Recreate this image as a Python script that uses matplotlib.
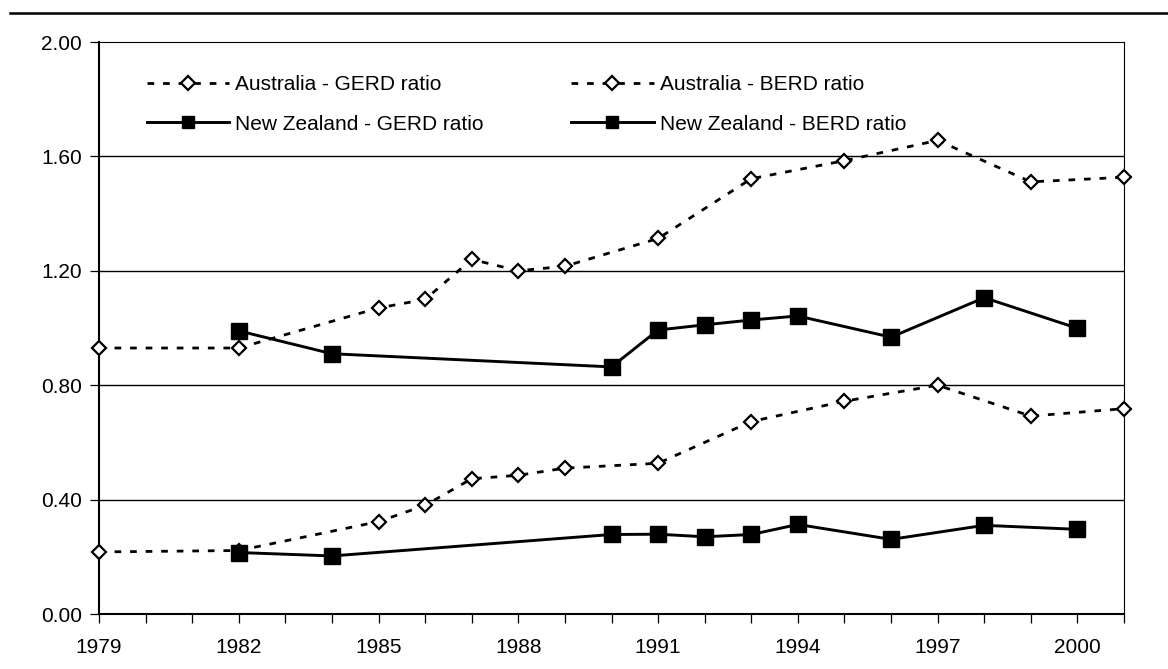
import matplotlib
matplotlib.use("Agg")
import matplotlib.pyplot as plt
from matplotlib.lines import Line2D

plt.rcParams['font.family'] = ['Liberation Sans', 'DejaVu Sans']

aus_years = [1979, 1982, 1985, 1986, 1987, 1988, 1989, 1991, 1993, 1995, 1997, 1999, 2001]
aus_gerd = [0.93, 0.93, 1.07, 1.10, 1.24, 1.20, 1.216, 1.313, 1.522, 1.585, 1.656, 1.511, 1.527]
aus_berd = [0.217, 0.222, 0.323, 0.380, 0.473, 0.485, 0.510, 0.527, 0.673, 0.744, 0.800, 0.692, 0.718]

nz_years = [1982, 1984, 1990, 1991, 1992, 1993, 1994, 1996, 1998, 2000]
nz_gerd = [0.99, 0.91, 0.864, 0.993, 1.011, 1.028, 1.042, 0.968, 1.106, 0.999]
nz_berd = [0.215, 0.203, 0.278, 0.279, 0.270, 0.278, 0.313, 0.261, 0.310, 0.296]

y_ticks = [0.0, 0.4, 0.8, 1.2, 1.6, 2.0]
x_label_years = list(range(1979, 2001, 3))
x_minor_years = list(range(1979, 2002))

FS = 15

fig = plt.figure(figsize=(11.68, 6.69), dpi=100)
ax = fig.add_axes([99/1168, 1-614/669, (1124-99)/1168, (614-42)/669])

dot = (0, (2.4, 3.2))
aus_kw = dict(color='black', lw=2.0, linestyle=dot, marker='D', markersize=7.2,
              markerfacecolor='white', markeredgecolor='black', markeredgewidth=1.6,
              clip_on=False, zorder=3)
nz_kw = dict(color='black', lw=2.1, linestyle='-', marker='s', markersize=11,
             markerfacecolor='black', markeredgecolor='black', clip_on=False, zorder=4)

l1, = ax.plot(aus_years, aus_gerd, label='Australia - GERD ratio', **aus_kw)
l2, = ax.plot(aus_years, aus_berd, label='Australia - BERD ratio', **aus_kw)
l3, = ax.plot(nz_years, nz_gerd, label='New Zealand - GERD ratio', **nz_kw)
l4, = ax.plot(nz_years, nz_berd, label='New Zealand - BERD ratio', **nz_kw)

ax.set_xlim(1979, 2001)
ax.set_ylim(0, 2.0)
ax.set_yticks(y_ticks)
ax.set_yticklabels([f"{v:.2f}" for v in y_ticks])
ax.set_xticks(x_minor_years, minor=True)
ax.set_xticks(x_label_years)
ax.set_xticklabels([str(y) for y in x_label_years])

for v in y_ticks[1:-1]:
    ax.axhline(v, color='black', lw=1.0, zorder=1)

ax.tick_params(axis='both', labelsize=FS, direction='out', length=6.5, width=0.9, color='black')
ax.tick_params(axis='x', which='minor', direction='out', length=6.5, width=0.9)
ax.tick_params(axis='x', pad=10.5)
ax.tick_params(axis='y', pad=6)

ax.spines['left'].set_linewidth(1.5)
ax.spines['bottom'].set_linewidth(1.5)
ax.spines['top'].set_linewidth(0.8)
ax.spines['right'].set_linewidth(0.8)

leg = ax.legend(handles=[l1, l3, l2, l4], ncol=2, frameon=False, fontsize=FS,
                loc='upper left', bbox_to_anchor=(0.039, 0.957),
                handlelength=3.94, handletextpad=0.29, columnspacing=4.2,
                labelspacing=1.0, borderaxespad=0)
for h in leg.legend_handles:
    if h.get_marker() == 's':
        h.set_markersize(9)

fig.add_artist(Line2D([10/1168, 1.0], [1-12.5/669, 1-12.5/669], color='black', lw=1.8,
                      transform=fig.transFigure))

fig.savefig('out.png', dpi=100)
